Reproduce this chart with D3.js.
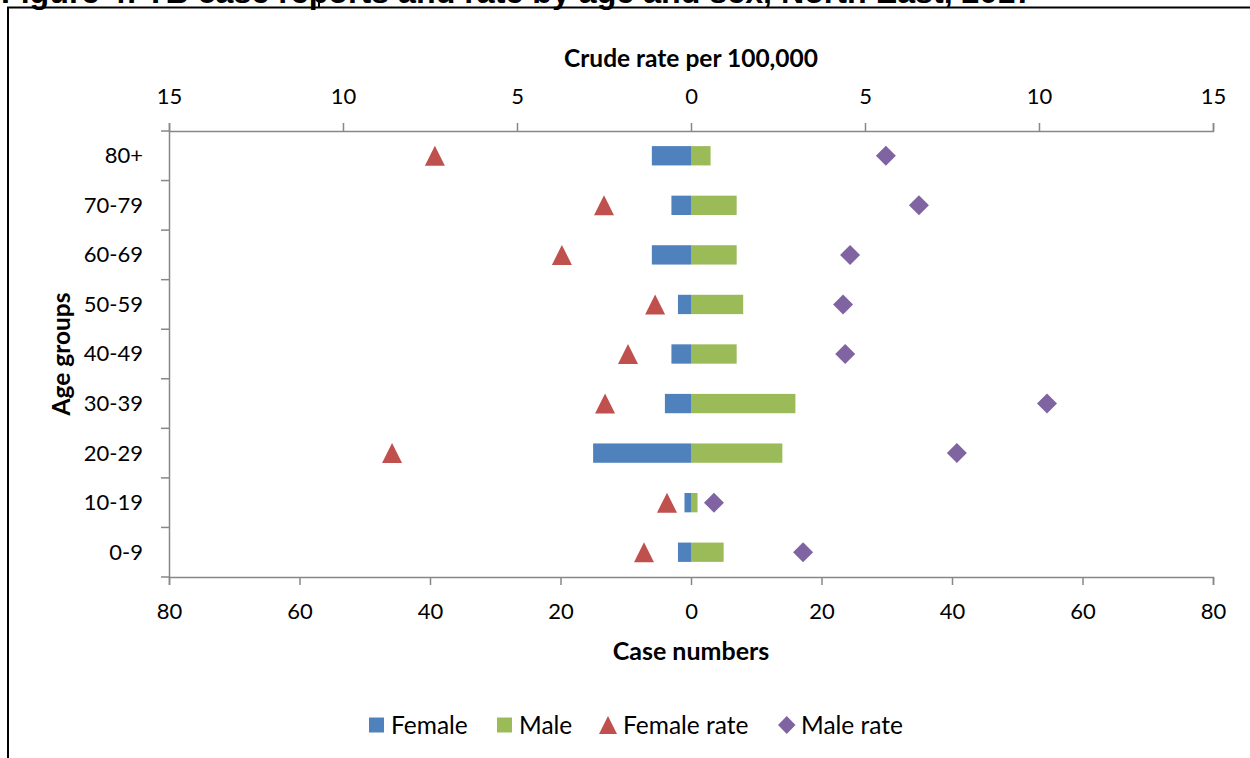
<!DOCTYPE html>
<html>
<head>
<meta charset="utf-8">
<script src="https://cdn.jsdelivr.net/npm/d3@7"></script>
<style>
  html, body { margin: 0; padding: 0; background: #fff; }
  svg { display: block; }
  text { font-family: Lato, "Open Sans", sans-serif; fill: #000; }
</style>
</head>
<body>
<svg id="chart" width="1250" height="758"></svg>
<script>
// Age groups, top to bottom
const ageGroups = ["80+", "70-79", "60-69", "50-59", "40-49", "30-39", "20-29", "10-19", "0-9"];
// Case numbers
const femaleCases = [6, 3, 6, 2, 3, 4, 15, 1, 2];
const maleCases   = [3, 7, 7, 8, 7, 16, 14, 1, 5];
// Crude rate per 100,000
const femaleRate = [7.36, 2.5, 3.71, 1.03, 1.81, 2.47, 8.59, 0.69, 1.35];
const maleRate   = [5.6, 6.55, 4.57, 4.37, 4.43, 10.23, 7.64, 0.66, 3.22];
// Axis ticks
const caseTicks = [-80, -60, -40, -20, 0, 20, 40, 60, 80];
const rateTicks = [-15, -10, -5, 0, 5, 10, 15];
const legendItems = ["Female", "Male", "Female rate", "Male rate"];

const colors = { female: "#4F81BD", male: "#9BBB59", femaleRate: "#C0504D", maleRate: "#8064A2" };
const axisColor = "#878787";

const svg = d3.select("#chart");

// Outer frame and the figure caption running off the top edge
svg.append("text")
  .attr("x", 1).attr("y", 3)
  .style("font-family", "'Liberation Sans', Arial, sans-serif")
  .style("font-weight", "bold").style("font-size", "32.2px")
  .text("Figure 4: TB case reports and rate by age and sex, North East, 2017");
svg.append("path")
  .attr("d", "M8,758 L8,7.5 L1250,7.5")
  .attr("fill", "none").attr("stroke", "#000").attr("stroke-width", 2);
svg.append("line").attr("x1", 319).attr("x2", 319).attr("y1", 0).attr("y2", 7)
  .attr("stroke", "#000").attr("stroke-width", 2);

const plotLeft = 169, plotRight = 1213, plotTop = 131, plotBottom = 577;

const xCases = d3.scaleLinear().domain([-80, 80]).range([plotLeft, plotRight]);
const xRate = d3.scaleLinear().domain([-15, 15]).range([plotLeft, plotRight]);
const y = d3.scaleBand().domain(ageGroups).range([plotTop, plotBottom]).padding(0);
const barH = y.step() * 0.39;

function styleAxis(g) {
  g.select(".domain").attr("stroke", axisColor).attr("stroke-width", 1.5);
  g.selectAll(".tick line").attr("stroke", axisColor).attr("stroke-width", 1.5);
  g.selectAll(".tick text").style("font-family", "Lato, sans-serif").style("font-size", "22px").attr("fill", "#000");
}

// Top axis: crude rate
const gTop = svg.append("g").attr("transform", `translate(0,${plotTop})`)
  .call(d3.axisTop(xRate).tickValues(rateTicks).tickFormat(d => Math.abs(d)).tickSize(8).tickSizeOuter(8));
styleAxis(gTop);
gTop.selectAll(".tick text").attr("y", -27).attr("dy", 0);

// Bottom axis: case numbers
const gBottom = svg.append("g").attr("transform", `translate(0,${plotBottom})`)
  .call(d3.axisBottom(xCases).tickValues(caseTicks).tickFormat(d => Math.abs(d)).tickSize(8).tickSizeOuter(8));
styleAxis(gBottom);
gBottom.selectAll(".tick text").attr("y", 42).attr("dy", 0);

// Left axis: age groups with boundary ticks
const gLeft = svg.append("g").attr("transform", `translate(${plotLeft},0)`)
  .call(d3.axisLeft(y).tickSize(0).tickPadding(26).tickSizeOuter(0));
styleAxis(gLeft);
gLeft.selectAll(".tick text").attr("dy", "0.34em");
const boundaries = ageGroups.map(a => y(a)).concat([y(ageGroups[ageGroups.length - 1]) + y.step()]);
gLeft.selectAll(".bound").data(boundaries).join("line")
  .attr("class", "bound")
  .attr("x1", -8).attr("x2", 0)
  .attr("y1", d => d).attr("y2", d => d)
  .attr("stroke", axisColor).attr("stroke-width", 1.5);

// Axis titles
svg.append("text").attr("x", (plotLeft + plotRight) / 2).attr("y", 67)
  .attr("text-anchor", "middle").style("font-weight", "bold").style("font-size", "24.5px")
  .text("Crude rate per 100,000");
svg.append("text").attr("x", (plotLeft + plotRight) / 2).attr("y", 660)
  .attr("text-anchor", "middle").style("font-weight", "bold").style("font-size", "25px")
  .text("Case numbers");
svg.append("text").attr("transform", `translate(70,${(plotTop + plotBottom) / 2}) rotate(-90)`)
  .attr("text-anchor", "middle").style("font-weight", "bold").style("font-size", "24.5px")
  .text("Age groups");

const cy = a => y(a) + y.step() / 2;

// Bars: female to the left, male to the right
svg.append("g").selectAll("rect").data(ageGroups).join("rect")
  .attr("x", (d, i) => xCases(-femaleCases[i]))
  .attr("width", (d, i) => xCases(0) - xCases(-femaleCases[i]))
  .attr("y", d => cy(d) - barH / 2).attr("height", barH)
  .attr("fill", colors.female);
svg.append("g").selectAll("rect").data(ageGroups).join("rect")
  .attr("x", xCases(0))
  .attr("width", (d, i) => xCases(maleCases[i]) - xCases(0))
  .attr("y", d => cy(d) - barH / 2).attr("height", barH)
  .attr("fill", colors.male);

// Rate markers
const tri = s => `M0,${-s / 2}L${s / 2},${s / 2}L${-s / 2},${s / 2}Z`;
const dia = s => `M0,${-s / 2}L${s / 2},0L0,${s / 2}L${-s / 2},0Z`;
svg.append("g").selectAll("path").data(ageGroups).join("path")
  .attr("d", tri(20))
  .attr("transform", (d, i) => `translate(${xRate(-femaleRate[i])},${cy(d)})`)
  .attr("fill", colors.femaleRate);
svg.append("g").selectAll("path").data(ageGroups).join("path")
  .attr("d", dia(20))
  .attr("transform", (d, i) => `translate(${xRate(maleRate[i])},${cy(d)})`)
  .attr("fill", colors.maleRate);

// Legend
const legendX = [369, 497, 599, 778];
const legendTextX = [22, 22, 24, 23];
const legendY = 725;
const lg = svg.append("g");
legendItems.forEach((name, i) => {
  const g = lg.append("g").attr("transform", `translate(${legendX[i]},${legendY})`);
  if (i === 0 || i === 1) {
    g.append("rect").attr("x", 0).attr("y", -7.5).attr("width", 15).attr("height", 15)
      .attr("fill", i === 0 ? colors.female : colors.male);
  } else if (i === 2) {
    g.append("path").attr("d", "M9,-9L18,9L0,9Z").attr("fill", colors.femaleRate);
  } else {
    g.append("path").attr("d", "M8.75,-9L17.5,0L8.75,9L0,0Z").attr("fill", colors.maleRate);
  }
  g.append("text").attr("x", legendTextX[i]).attr("y", 9)
    .style("font-size", "24.5px").text(name);
});
</script>
</body>
</html>
